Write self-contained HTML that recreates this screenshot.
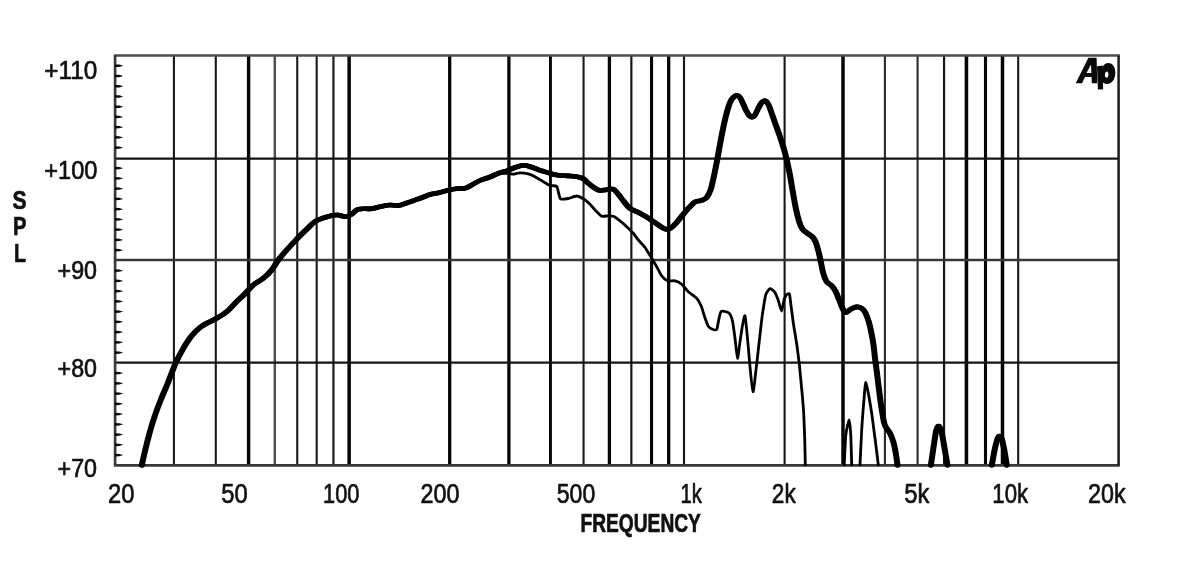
<!DOCTYPE html>
<html><head><meta charset="utf-8"><title>Frequency response</title>
<style>
html,body{margin:0;padding:0;background:#fff;}
body{width:1200px;height:566px;overflow:hidden;font-family:"Liberation Sans",sans-serif;}
svg{display:block;}
text{font-family:"Liberation Sans",sans-serif;fill:#111;}
</style></head><body>
<svg width="1200" height="566" viewBox="0 0 1200 566">
<rect x="0" y="0" width="1200" height="566" fill="#ffffff"/>

<g fill="none">
<line x1="173.91" y1="55.5" x2="173.91" y2="465.3" stroke="#181818" stroke-width="2.1"/>
<line x1="215.79" y1="55.5" x2="215.79" y2="465.3" stroke="#181818" stroke-width="2.1"/>
<line x1="248.60" y1="55.5" x2="248.60" y2="465.3" stroke="#050505" stroke-width="3.4"/>
<line x1="274.80" y1="55.5" x2="274.80" y2="465.3" stroke="#505050" stroke-width="2.5"/>
<line x1="297.24" y1="55.5" x2="297.24" y2="465.3" stroke="#1a1a1a" stroke-width="2.1"/>
<line x1="316.67" y1="55.5" x2="316.67" y2="465.3" stroke="#1a1a1a" stroke-width="2.1"/>
<line x1="333.45" y1="55.5" x2="333.45" y2="465.3" stroke="#1a1a1a" stroke-width="2.2"/>
<line x1="349.15" y1="55.5" x2="349.15" y2="465.3" stroke="#050505" stroke-width="3.5"/>
<line x1="449.70" y1="55.5" x2="449.70" y2="465.3" stroke="#050505" stroke-width="3.3"/>
<line x1="508.91" y1="55.5" x2="508.91" y2="465.3" stroke="#050505" stroke-width="3.3"/>
<line x1="550.45" y1="55.5" x2="550.45" y2="465.3" stroke="#050505" stroke-width="2.9"/>
<line x1="583.55" y1="55.5" x2="583.55" y2="465.3" stroke="#1a1a1a" stroke-width="2.1"/>
<line x1="609.40" y1="55.5" x2="609.40" y2="465.3" stroke="#050505" stroke-width="3.3"/>
<line x1="631.35" y1="55.5" x2="631.35" y2="465.3" stroke="#181818" stroke-width="2.2"/>
<line x1="651.55" y1="55.5" x2="651.55" y2="465.3" stroke="#050505" stroke-width="3.1"/>
<line x1="668.68" y1="55.5" x2="668.68" y2="465.3" stroke="#050505" stroke-width="3.3"/>
<line x1="684.00" y1="55.5" x2="684.00" y2="465.3" stroke="#181818" stroke-width="2.1"/>
<line x1="784.60" y1="55.5" x2="784.60" y2="465.3" stroke="#181818" stroke-width="2.1"/>
<line x1="843.00" y1="55.5" x2="843.00" y2="465.3" stroke="#050505" stroke-width="3.5"/>
<line x1="884.90" y1="55.5" x2="884.90" y2="465.3" stroke="#2a2a2a" stroke-width="2.1"/>
<line x1="917.60" y1="55.5" x2="917.60" y2="465.3" stroke="#2a2a2a" stroke-width="2.1"/>
<line x1="944.06" y1="55.5" x2="944.06" y2="465.3" stroke="#181818" stroke-width="2.2"/>
<line x1="966.43" y1="55.5" x2="966.43" y2="465.3" stroke="#050505" stroke-width="3.6"/>
<line x1="985.50" y1="55.5" x2="985.50" y2="465.3" stroke="#050505" stroke-width="3.1"/>
<line x1="1002.50" y1="55.5" x2="1002.50" y2="465.3" stroke="#050505" stroke-width="3.5"/>
<line x1="1018.20" y1="55.5" x2="1018.20" y2="465.3" stroke="#181818" stroke-width="2.1"/>
<line x1="114.9" y1="158.6" x2="1118.6" y2="158.6" stroke="#141414" stroke-width="2.1"/>
<line x1="114.9" y1="259.9" x2="1118.6" y2="259.9" stroke="#383838" stroke-width="2.5"/>
<line x1="114.9" y1="362.6" x2="1118.6" y2="362.6" stroke="#141414" stroke-width="2.1"/>
<line x1="113.90" y1="55.50" x2="1119.80" y2="55.50" stroke="#4c4c4c" stroke-width="2.4"/>
<line x1="113.90" y1="465.30" x2="1119.80" y2="465.30" stroke="#383838" stroke-width="2.7"/>
<line x1="115.10" y1="55.50" x2="115.10" y2="465.30" stroke="#3a3a3a" stroke-width="2.7"/>
<line x1="1118.60" y1="55.50" x2="1118.60" y2="465.30" stroke="#1c1c1c" stroke-width="2.5"/>
<path d="M114.9,64.40 L119.4,64.59 L123.2,65.75 L119.4,66.90 L114.9,67.09 Z" fill="#0c0c0c" stroke="none"/>
<path d="M114.9,74.64 L119.4,74.84 L123.2,75.99 L119.4,77.14 L114.9,77.34 Z" fill="#0c0c0c" stroke="none"/>
<path d="M114.9,84.89 L119.4,85.08 L123.2,86.23 L119.4,87.39 L114.9,87.58 Z" fill="#0c0c0c" stroke="none"/>
<path d="M114.9,95.13 L119.4,95.33 L123.2,96.48 L119.4,97.63 L114.9,97.83 Z" fill="#0c0c0c" stroke="none"/>
<path d="M114.9,105.38 L119.4,105.58 L123.2,106.73 L119.4,107.88 L114.9,108.08 Z" fill="#0c0c0c" stroke="none"/>
<path d="M114.9,115.62 L119.4,115.82 L123.2,116.97 L119.4,118.12 L114.9,118.32 Z" fill="#0c0c0c" stroke="none"/>
<path d="M114.9,125.87 L119.4,126.06 L123.2,127.22 L119.4,128.37 L114.9,128.56 Z" fill="#0c0c0c" stroke="none"/>
<path d="M114.9,136.11 L119.4,136.31 L123.2,137.46 L119.4,138.61 L114.9,138.81 Z" fill="#0c0c0c" stroke="none"/>
<path d="M114.9,146.36 L119.4,146.56 L123.2,147.71 L119.4,148.86 L114.9,149.06 Z" fill="#0c0c0c" stroke="none"/>
<path d="M114.9,166.84 L119.4,167.04 L123.2,168.19 L119.4,169.34 L114.9,169.54 Z" fill="#0c0c0c" stroke="none"/>
<path d="M114.9,177.09 L119.4,177.29 L123.2,178.44 L119.4,179.59 L114.9,179.79 Z" fill="#0c0c0c" stroke="none"/>
<path d="M114.9,187.34 L119.4,187.53 L123.2,188.69 L119.4,189.84 L114.9,190.03 Z" fill="#0c0c0c" stroke="none"/>
<path d="M114.9,197.58 L119.4,197.78 L123.2,198.93 L119.4,200.08 L114.9,200.28 Z" fill="#0c0c0c" stroke="none"/>
<path d="M114.9,207.83 L119.4,208.03 L123.2,209.18 L119.4,210.33 L114.9,210.53 Z" fill="#0c0c0c" stroke="none"/>
<path d="M114.9,218.07 L119.4,218.27 L123.2,219.42 L119.4,220.57 L114.9,220.77 Z" fill="#0c0c0c" stroke="none"/>
<path d="M114.9,228.32 L119.4,228.52 L123.2,229.67 L119.4,230.82 L114.9,231.02 Z" fill="#0c0c0c" stroke="none"/>
<path d="M114.9,238.56 L119.4,238.76 L123.2,239.91 L119.4,241.06 L114.9,241.26 Z" fill="#0c0c0c" stroke="none"/>
<path d="M114.9,248.81 L119.4,249.01 L123.2,250.16 L119.4,251.31 L114.9,251.51 Z" fill="#0c0c0c" stroke="none"/>
<path d="M114.9,269.29 L119.4,269.50 L123.2,270.64 L119.4,271.79 L114.9,272.00 Z" fill="#0c0c0c" stroke="none"/>
<path d="M114.9,279.54 L119.4,279.74 L123.2,280.89 L119.4,282.04 L114.9,282.24 Z" fill="#0c0c0c" stroke="none"/>
<path d="M114.9,289.78 L119.4,289.99 L123.2,291.13 L119.4,292.28 L114.9,292.49 Z" fill="#0c0c0c" stroke="none"/>
<path d="M114.9,300.03 L119.4,300.23 L123.2,301.38 L119.4,302.53 L114.9,302.73 Z" fill="#0c0c0c" stroke="none"/>
<path d="M114.9,310.27 L119.4,310.48 L123.2,311.62 L119.4,312.77 L114.9,312.98 Z" fill="#0c0c0c" stroke="none"/>
<path d="M114.9,320.52 L119.4,320.72 L123.2,321.87 L119.4,323.02 L114.9,323.22 Z" fill="#0c0c0c" stroke="none"/>
<path d="M114.9,330.76 L119.4,330.97 L123.2,332.12 L119.4,333.26 L114.9,333.47 Z" fill="#0c0c0c" stroke="none"/>
<path d="M114.9,341.01 L119.4,341.21 L123.2,342.36 L119.4,343.51 L114.9,343.71 Z" fill="#0c0c0c" stroke="none"/>
<path d="M114.9,351.25 L119.4,351.46 L123.2,352.61 L119.4,353.75 L114.9,353.96 Z" fill="#0c0c0c" stroke="none"/>
<path d="M114.9,371.75 L119.4,371.95 L123.2,373.10 L119.4,374.25 L114.9,374.45 Z" fill="#0c0c0c" stroke="none"/>
<path d="M114.9,381.99 L119.4,382.19 L123.2,383.34 L119.4,384.49 L114.9,384.69 Z" fill="#0c0c0c" stroke="none"/>
<path d="M114.9,392.24 L119.4,392.44 L123.2,393.59 L119.4,394.74 L114.9,394.94 Z" fill="#0c0c0c" stroke="none"/>
<path d="M114.9,402.48 L119.4,402.68 L123.2,403.83 L119.4,404.98 L114.9,405.18 Z" fill="#0c0c0c" stroke="none"/>
<path d="M114.9,412.73 L119.4,412.93 L123.2,414.08 L119.4,415.23 L114.9,415.43 Z" fill="#0c0c0c" stroke="none"/>
<path d="M114.9,422.97 L119.4,423.17 L123.2,424.32 L119.4,425.47 L114.9,425.67 Z" fill="#0c0c0c" stroke="none"/>
<path d="M114.9,433.22 L119.4,433.42 L123.2,434.57 L119.4,435.72 L114.9,435.92 Z" fill="#0c0c0c" stroke="none"/>
<path d="M114.9,443.46 L119.4,443.66 L123.2,444.81 L119.4,445.96 L114.9,446.16 Z" fill="#0c0c0c" stroke="none"/>
<path d="M114.9,453.71 L119.4,453.91 L123.2,455.06 L119.4,456.21 L114.9,456.41 Z" fill="#0c0c0c" stroke="none"/>
</g>
<g fill="none" stroke="#000" stroke-linejoin="round" stroke-linecap="round">
<path d="M498.3,173.3 C499.3,173.3 506.8,173.2 508.3,173.3 C509.8,173.4 512.1,174.2 513.3,174.2 C514.5,174.1 518.5,172.8 520.0,172.8 C521.5,172.8 526.8,173.4 528.3,173.8 C529.8,174.2 533.5,175.9 535.0,176.7 C536.5,177.5 541.8,180.8 543.3,181.7 C544.8,182.6 548.7,184.8 550.0,185.3 C551.3,185.8 555.9,185.7 556.7,186.3 C557.5,186.9 557.9,190.4 558.3,191.7 C558.7,193.0 559.6,198.2 560.6,198.9 C561.6,199.6 566.7,198.8 568.3,198.5 C569.9,198.2 575.2,196.0 576.7,196.0 C578.2,196.0 582.0,198.0 583.3,198.8 C584.6,199.6 588.8,203.0 590.0,204.2 C591.2,205.4 594.6,209.6 595.8,210.8 C597.0,212.0 600.5,215.7 601.7,216.2 C603.0,216.7 607.1,215.8 608.3,215.8 C609.5,215.8 612.1,215.8 613.3,216.3 C614.5,216.8 618.7,219.8 620.0,220.8 C621.3,221.8 625.4,225.4 626.7,226.7 C628.0,227.9 632.1,232.0 633.3,233.3 C634.5,234.6 637.1,238.6 638.3,240.0 C639.5,241.4 643.8,245.8 645.0,247.5 C646.2,249.2 649.6,254.8 650.8,256.7 C652.0,258.6 655.6,264.8 656.7,266.7 C657.8,268.6 660.6,274.4 661.7,275.8 C662.8,277.2 666.2,280.3 667.5,280.8 C668.8,281.3 673.6,280.5 675.0,280.8 C676.4,281.1 680.4,283.1 681.7,284.2 C683.0,285.3 686.8,290.3 688.3,291.7 C689.8,293.1 695.4,296.9 696.7,298.3 C698.0,299.7 700.4,304.2 701.2,306.0 C702.0,307.8 703.9,314.7 704.6,316.7 C705.3,318.7 707.5,324.9 708.3,326.2 C709.1,327.4 711.7,328.9 712.5,329.2 C713.3,329.5 716.1,330.4 716.7,329.5 C717.3,328.6 718.3,321.8 718.7,320.0 C719.1,318.2 720.4,312.9 720.8,312.0 C721.2,311.1 721.7,311.1 722.5,311.2 C723.3,311.3 728.2,312.3 729.2,313.3 C730.2,314.3 731.9,318.5 732.5,321.0 C733.1,323.5 734.5,334.6 735.0,338.3 C735.5,342.0 737.0,358.0 737.5,358.3 C738.0,358.6 739.5,345.0 740.0,341.7 C740.5,338.4 742.0,328.1 742.5,325.5 C743.0,322.9 744.5,314.5 745.0,315.8 C745.5,317.1 747.0,333.2 747.5,338.3 C748.0,343.4 749.5,361.4 750.0,366.7 C750.5,372.0 752.4,391.2 753.0,391.7 C753.6,392.2 755.2,376.7 755.8,371.7 C756.4,366.7 758.7,346.6 759.2,341.7 C759.8,336.8 760.9,326.5 761.3,323.0 C761.7,319.5 763.1,309.6 763.6,306.7 C764.1,303.8 765.2,296.3 765.8,294.5 C766.4,292.7 769.1,288.9 770.0,288.7 C770.9,288.4 773.8,290.8 774.6,292.0 C775.4,293.2 777.6,298.5 778.3,300.4 C779.0,302.3 780.9,311.1 781.5,311.0 C782.1,310.9 783.7,301.1 784.2,299.5 C784.7,297.9 786.2,295.0 786.7,294.5 C787.2,294.0 789.1,293.1 789.5,294.2 C789.9,295.3 790.6,302.6 791.0,305.5 C791.4,308.4 792.9,320.2 793.3,323.0 C793.7,325.8 794.6,330.9 795.0,333.3 C795.4,335.8 796.8,344.3 797.2,347.5 C797.6,350.7 799.0,361.2 799.4,365.0 C799.8,368.8 801.0,381.6 801.3,385.0 C801.6,388.4 802.4,395.7 802.6,398.5 C802.8,401.3 803.5,409.3 803.7,413.3 C803.9,417.3 804.5,433.2 804.7,438.3 C804.9,443.4 805.2,462.2 805.3,464.8" stroke-width="2.8"/>
<path d="M844.2,464.8 C844.4,461.8 845.3,439.5 845.8,435.0 C846.3,430.5 848.7,420.0 849.2,420.0 C849.7,420.0 850.5,430.5 850.8,435.0 C851.0,439.5 851.6,461.8 851.7,464.8" stroke-width="2.8"/>
<path d="M860.0,464.8 C860.2,461.3 861.3,436.8 861.7,430.0 C862.1,423.2 863.8,401.4 864.2,396.7 C864.6,391.9 865.2,382.8 865.6,382.5 C866.0,382.2 867.7,390.2 868.3,393.3 C868.9,396.4 871.0,408.8 871.7,413.3 C872.4,417.8 874.3,433.2 875.0,438.3 C875.7,443.4 878.0,462.2 878.3,464.8" stroke-width="2.8"/>
<path d="M141.8,465.2 C142.3,462.8 143.8,456.1 145.0,451.0 C146.2,445.9 147.7,439.9 149.2,434.3 C150.7,428.8 152.3,423.2 154.2,417.7 C156.0,412.1 158.1,406.6 160.3,401.0 C162.5,395.4 164.9,390.2 167.5,383.8 C170.1,377.4 173.2,368.7 175.8,362.8 C178.4,356.9 180.7,352.8 183.3,348.3 C186.0,343.8 188.9,339.3 191.7,335.8 C194.5,332.3 197.2,329.7 200.0,327.5 C202.8,325.3 205.5,324.0 208.3,322.5 C211.1,321.0 213.6,320.1 216.7,318.3 C219.8,316.5 223.4,314.5 226.7,311.7 C230.0,308.9 233.7,304.6 236.7,301.7 C239.7,298.8 241.8,297.0 244.6,294.2 C247.4,291.4 250.2,287.6 253.3,285.0 C256.4,282.4 260.2,280.8 263.3,278.3 C266.4,275.8 269.2,273.1 271.7,270.0 C274.2,266.9 275.8,263.3 278.3,260.0 C280.8,256.7 283.6,253.5 286.7,250.0 C289.8,246.5 293.4,242.7 296.7,239.2 C300.0,235.7 303.6,232.1 306.7,229.2 C309.8,226.3 312.2,223.6 315.0,221.7 C317.8,219.8 320.2,219.1 323.3,218.0 C326.4,216.9 330.8,215.8 333.3,215.3 C335.8,214.8 336.4,214.8 338.3,215.0 C340.2,215.2 342.8,216.8 345.0,216.7 C347.2,216.6 349.5,215.4 351.7,214.2 C353.9,212.9 355.0,210.1 358.3,209.2 C361.6,208.3 367.8,209.2 371.7,208.7 C375.6,208.2 378.6,206.9 381.7,206.3 C384.8,205.7 387.2,205.1 390.0,205.0 C392.8,204.9 395.5,205.9 398.3,205.6 C401.1,205.3 404.6,203.7 406.7,203.0 C408.8,202.3 409.3,202.2 411.0,201.6 C412.7,201.0 414.9,200.2 417.0,199.4 C419.1,198.6 421.3,197.8 423.5,197.0 C425.7,196.2 427.2,195.2 430.0,194.5 C432.8,193.8 436.7,193.3 440.0,192.5 C443.3,191.7 447.2,190.3 450.0,189.7 C452.8,189.1 454.2,188.9 456.7,188.7 C459.2,188.5 462.5,188.9 465.0,188.3 C467.5,187.7 469.2,186.3 471.7,185.0 C474.2,183.7 476.9,181.8 480.0,180.5 C483.1,179.2 486.9,178.2 490.0,177.0 C493.1,175.8 495.5,174.3 498.3,173.3 C501.1,172.3 503.9,171.8 506.7,170.8 C509.5,169.8 512.2,168.4 515.0,167.5 C517.8,166.6 520.5,165.4 523.3,165.3 C526.1,165.2 528.6,166.3 531.7,167.2 C534.8,168.1 538.7,169.8 541.7,170.8 C544.8,171.8 547.2,172.6 550.0,173.3 C552.8,174.1 555.2,174.9 558.3,175.3 C561.3,175.7 565.2,175.7 568.3,175.9 C571.4,176.1 574.2,176.2 576.7,176.7 C579.2,177.2 581.4,177.6 583.3,178.7 C585.2,179.8 586.3,181.7 588.3,183.3 C590.2,184.9 593.0,187.1 595.0,188.3 C597.0,189.5 598.0,190.3 600.0,190.5 C602.0,190.7 604.5,189.9 606.7,189.7 C608.9,189.5 611.4,188.4 613.3,189.2 C615.2,189.9 616.6,192.3 618.3,194.2 C620.0,196.1 621.3,198.5 623.3,200.8 C625.2,203.2 627.2,206.2 630.0,208.3 C632.8,210.4 636.7,211.5 640.0,213.3 C643.3,215.1 647.0,217.2 650.0,219.2 C653.0,221.1 655.7,223.3 658.3,225.0 C660.9,226.7 663.7,228.7 665.8,229.2 C667.9,229.7 669.0,229.1 670.8,228.0 C672.6,226.9 674.6,224.8 676.7,222.5 C678.8,220.2 681.1,216.8 683.3,214.2 C685.5,211.6 688.0,208.7 690.0,206.7 C692.0,204.7 693.0,203.1 695.0,202.0 C697.0,200.9 699.8,201.1 701.7,200.3 C703.7,199.6 705.2,199.3 706.7,197.5 C708.2,195.7 709.5,192.9 710.8,189.2 C712.0,185.4 713.1,180.2 714.2,175.0 C715.3,169.8 716.4,164.1 717.5,158.3 C718.6,152.5 719.7,145.8 720.8,140.0 C721.9,134.2 723.1,128.3 724.2,123.3 C725.3,118.3 726.4,113.8 727.5,110.0 C728.6,106.2 729.7,103.0 730.8,100.8 C731.9,98.6 733.2,97.6 734.2,96.7 C735.2,95.8 735.7,95.2 736.7,95.3 C737.7,95.4 738.9,96.0 740.0,97.5 C741.1,99.0 742.2,101.8 743.3,104.2 C744.4,106.6 745.6,109.7 746.7,111.7 C747.8,113.7 749.0,115.4 750.0,116.3 C751.0,117.2 751.7,117.2 752.5,117.0 C753.3,116.8 754.0,116.5 755.0,115.0 C756.0,113.5 757.2,110.4 758.3,108.3 C759.4,106.2 760.6,103.8 761.7,102.5 C762.8,101.2 763.9,100.5 765.0,100.8 C766.1,101.1 767.2,102.1 768.3,104.2 C769.4,106.3 770.5,109.8 771.7,113.3 C773.0,116.8 774.4,121.1 775.8,125.0 C777.2,128.9 778.6,132.5 780.0,136.7 C781.4,140.9 783.0,145.8 784.2,150.0 C785.4,154.2 786.3,158.1 787.2,162.0 C788.1,165.9 788.7,168.6 789.6,173.3 C790.5,178.0 791.5,184.2 792.5,190.0 C793.5,195.8 794.7,203.0 795.8,208.3 C796.9,213.6 798.1,218.2 799.2,221.7 C800.3,225.2 801.1,227.3 802.5,229.2 C803.9,231.1 805.8,232.0 807.5,233.3 C809.2,234.6 811.1,235.6 812.5,237.0 C813.9,238.4 814.6,239.7 815.6,242.0 C816.6,244.3 817.5,247.7 818.4,251.0 C819.3,254.3 820.0,258.0 820.8,261.7 C821.6,265.4 822.3,270.0 823.3,273.3 C824.3,276.6 825.3,279.6 826.7,281.7 C828.1,283.8 830.2,284.1 831.7,285.8 C833.2,287.5 834.5,289.3 835.8,291.7 C837.0,294.1 838.1,297.2 839.2,300.0 C840.3,302.8 841.4,306.2 842.5,308.3 C843.6,310.4 844.4,312.4 845.8,312.5 C847.2,312.6 849.0,310.1 850.8,309.2 C852.6,308.3 854.9,307.0 856.7,306.9 C858.5,306.8 860.2,307.3 861.7,308.3 C863.2,309.3 864.3,310.6 865.5,313.0 C866.7,315.4 868.0,319.0 869.0,322.5 C870.0,326.0 870.9,330.4 871.6,334.0 C872.3,337.6 872.8,339.9 873.4,344.0 C874.0,348.1 874.4,353.3 875.0,358.3 C875.6,363.3 876.5,369.1 877.1,374.0 C877.7,378.9 878.2,383.3 878.8,388.0 C879.4,392.7 880.0,397.8 880.6,402.0 C881.2,406.2 881.7,409.5 882.4,413.3 C883.1,417.1 883.5,421.7 884.8,425.0 C886.1,428.3 888.6,430.5 890.0,433.3 C891.4,436.1 892.3,438.4 893.3,441.7 C894.3,445.0 895.1,449.4 895.8,453.3 C896.5,457.2 897.2,463.2 897.5,465.2 M930.9,465.2 C931.1,463.9 933.0,450.4 933.4,448.0 C933.8,445.6 935.6,433.5 935.9,432.0 C936.2,430.5 937.4,427.4 937.6,427.0 C937.8,426.6 938.5,426.0 938.6,426.0 C938.7,426.0 939.4,426.6 939.6,427.0 C939.8,427.4 941.2,430.5 941.6,432.0 C942.0,433.5 944.1,445.6 944.5,448.0 C944.9,450.4 947.3,463.9 947.5,465.2 M991.8,465.2 C992.0,464.1 994.2,451.9 994.6,450.0 C995.0,448.1 997.0,440.5 997.3,439.5 C997.6,438.5 998.5,436.9 998.7,436.6 C998.9,436.3 999.5,436.0 999.6,436.0 C999.7,436.0 1000.3,436.3 1000.5,436.6 C1000.7,436.9 1001.7,438.5 1002.0,439.5 C1002.3,440.5 1003.9,448.1 1004.3,450.0 C1004.7,451.9 1006.6,464.1 1006.8,465.2" stroke-width="4.6"/>
<path d="M141.8,465.2 C142.3,462.8 143.8,456.1 145.0,451.0 C146.2,445.9 147.7,439.9 149.2,434.3 C150.7,428.8 152.3,423.2 154.2,417.7 C156.0,412.1 158.1,406.6 160.3,401.0 C162.5,395.4 164.9,390.2 167.5,383.8 C170.1,377.4 173.2,368.7 175.8,362.8 C178.4,356.9 180.7,352.8 183.3,348.3 C186.0,343.8 188.9,339.3 191.7,335.8 C194.5,332.3 197.2,329.7 200.0,327.5 C202.8,325.3 205.5,324.0 208.3,322.5 C211.1,321.0 213.6,320.1 216.7,318.3 C219.8,316.5 223.4,314.5 226.7,311.7 C230.0,308.9 233.7,304.6 236.7,301.7 C239.7,298.8 241.8,297.0 244.6,294.2 C247.4,291.4 250.2,287.6 253.3,285.0 C256.4,282.4 260.2,280.8 263.3,278.3 C266.4,275.8 269.2,273.1 271.7,270.0 C274.2,266.9 275.8,263.3 278.3,260.0 C280.8,256.7 283.6,253.5 286.7,250.0 C289.8,246.5 293.4,242.7 296.7,239.2 C300.0,235.7 303.6,232.1 306.7,229.2 C309.8,226.3 312.2,223.6 315.0,221.7 C317.8,219.8 320.2,219.1 323.3,218.0 C326.4,216.9 330.8,215.8 333.3,215.3 C335.8,214.8 336.4,214.8 338.3,215.0 C340.2,215.2 342.8,216.8 345.0,216.7 C347.2,216.6 349.5,215.4 351.7,214.2 C353.9,212.9 355.0,210.1 358.3,209.2 C361.6,208.3 367.8,209.2 371.7,208.7 C375.6,208.2 378.6,206.9 381.7,206.3 C384.8,205.7 387.2,205.1 390.0,205.0 C392.8,204.9 395.5,205.9 398.3,205.6 C401.1,205.3 404.6,203.7 406.7,203.0 C408.8,202.3 409.3,202.2 411.0,201.6 C412.7,201.0 414.9,200.2 417.0,199.4 C419.1,198.6 421.3,197.8 423.5,197.0 C425.7,196.2 427.2,195.2 430.0,194.5 C432.8,193.8 436.7,193.3 440.0,192.5 C443.3,191.7 447.2,190.3 450.0,189.7 C452.8,189.1 454.2,188.9 456.7,188.7 C459.2,188.5 462.5,188.9 465.0,188.3 C467.5,187.7 469.2,186.3 471.7,185.0 C474.2,183.7 476.9,181.8 480.0,180.5 C483.1,179.2 486.9,178.2 490.0,177.0 C493.1,175.8 495.5,174.3 498.3,173.3 C501.1,172.3 503.9,171.8 506.7,170.8 C509.5,169.8 512.2,168.4 515.0,167.5 C517.8,166.6 520.5,165.4 523.3,165.3 C526.1,165.2 528.6,166.3 531.7,167.2 C534.8,168.1 538.7,169.8 541.7,170.8 C544.8,171.8 547.2,172.6 550.0,173.3 C552.8,174.1 555.2,174.9 558.3,175.3 C561.3,175.7 565.2,175.7 568.3,175.9 C571.4,176.1 574.2,176.2 576.7,176.7 C579.2,177.2 581.4,177.6 583.3,178.7 C585.2,179.8 586.3,181.7 588.3,183.3 C590.2,184.9 593.0,187.1 595.0,188.3 C597.0,189.5 598.0,190.3 600.0,190.5 C602.0,190.7 604.5,189.9 606.7,189.7 C608.9,189.5 611.4,188.4 613.3,189.2 C615.2,189.9 616.6,192.3 618.3,194.2 C620.0,196.1 621.3,198.5 623.3,200.8 C625.2,203.2 627.2,206.2 630.0,208.3 C632.8,210.4 636.7,211.5 640.0,213.3 C643.3,215.1 647.0,217.2 650.0,219.2 C653.0,221.1 655.7,223.3 658.3,225.0 C660.9,226.7 663.7,228.7 665.8,229.2 C667.9,229.7 669.0,229.1 670.8,228.0 C672.6,226.9 674.6,224.8 676.7,222.5 C678.8,220.2 681.1,216.8 683.3,214.2 C685.5,211.6 688.0,208.7 690.0,206.7 C692.0,204.7 693.0,203.1 695.0,202.0 C697.0,200.9 699.8,201.1 701.7,200.3 C703.7,199.6 705.2,199.3 706.7,197.5 C708.2,195.7 709.5,192.9 710.8,189.2 C712.0,185.4 713.1,180.2 714.2,175.0 C715.3,169.8 716.4,164.1 717.5,158.3 C718.6,152.5 719.7,145.8 720.8,140.0 C721.9,134.2 723.1,128.3 724.2,123.3 C725.3,118.3 726.4,113.8 727.5,110.0 C728.6,106.2 729.7,103.0 730.8,100.8 C731.9,98.6 733.2,97.6 734.2,96.7 C735.2,95.8 735.7,95.2 736.7,95.3 C737.7,95.4 738.9,96.0 740.0,97.5 C741.1,99.0 742.2,101.8 743.3,104.2 C744.4,106.6 745.6,109.7 746.7,111.7 C747.8,113.7 749.0,115.4 750.0,116.3 C751.0,117.2 751.7,117.2 752.5,117.0 C753.3,116.8 754.0,116.5 755.0,115.0 C756.0,113.5 757.2,110.4 758.3,108.3 C759.4,106.2 760.6,103.8 761.7,102.5 C762.8,101.2 763.9,100.5 765.0,100.8 C766.1,101.1 767.2,102.1 768.3,104.2 C769.4,106.3 770.5,109.8 771.7,113.3 C773.0,116.8 774.4,121.1 775.8,125.0 C777.2,128.9 778.6,132.5 780.0,136.7 C781.4,140.9 783.0,145.8 784.2,150.0 C785.4,154.2 786.3,158.1 787.2,162.0 C788.1,165.9 788.7,168.6 789.6,173.3 C790.5,178.0 791.5,184.2 792.5,190.0 C793.5,195.8 794.7,203.0 795.8,208.3 C796.9,213.6 798.1,218.2 799.2,221.7 C800.3,225.2 801.1,227.3 802.5,229.2 C803.9,231.1 805.8,232.0 807.5,233.3 C809.2,234.6 811.1,235.6 812.5,237.0 C813.9,238.4 814.6,239.7 815.6,242.0 C816.6,244.3 817.5,247.7 818.4,251.0 C819.3,254.3 820.0,258.0 820.8,261.7 C821.6,265.4 822.3,270.0 823.3,273.3 C824.3,276.6 825.3,279.6 826.7,281.7 C828.1,283.8 830.2,284.1 831.7,285.8 C833.2,287.5 834.5,289.3 835.8,291.7 C837.0,294.1 838.1,297.2 839.2,300.0 C840.3,302.8 841.4,306.2 842.5,308.3 C843.6,310.4 844.4,312.4 845.8,312.5 C847.2,312.6 849.0,310.1 850.8,309.2 C852.6,308.3 854.9,307.0 856.7,306.9 C858.5,306.8 860.2,307.3 861.7,308.3 C863.2,309.3 864.3,310.6 865.5,313.0 C866.7,315.4 868.0,319.0 869.0,322.5 C870.0,326.0 870.9,330.4 871.6,334.0 C872.3,337.6 872.8,339.9 873.4,344.0 C874.0,348.1 874.4,353.3 875.0,358.3 C875.6,363.3 876.5,369.1 877.1,374.0 C877.7,378.9 878.2,383.3 878.8,388.0 C879.4,392.7 880.0,397.8 880.6,402.0 C881.2,406.2 881.7,409.5 882.4,413.3 C883.1,417.1 883.5,421.7 884.8,425.0 C886.1,428.3 888.6,430.5 890.0,433.3 C891.4,436.1 892.3,438.4 893.3,441.7 C894.3,445.0 895.1,449.4 895.8,453.3 C896.5,457.2 897.2,463.2 897.5,465.2 M930.9,465.2 C931.1,463.9 933.0,450.4 933.4,448.0 C933.8,445.6 935.6,433.5 935.9,432.0 C936.2,430.5 937.4,427.4 937.6,427.0 C937.8,426.6 938.5,426.0 938.6,426.0 C938.7,426.0 939.4,426.6 939.6,427.0 C939.8,427.4 941.2,430.5 941.6,432.0 C942.0,433.5 944.1,445.6 944.5,448.0 C944.9,450.4 947.3,463.9 947.5,465.2 M991.8,465.2 C992.0,464.1 994.2,451.9 994.6,450.0 C995.0,448.1 997.0,440.5 997.3,439.5 C997.6,438.5 998.5,436.9 998.7,436.6 C998.9,436.3 999.5,436.0 999.6,436.0 C999.7,436.0 1000.3,436.3 1000.5,436.6 C1000.7,436.9 1001.7,438.5 1002.0,439.5 C1002.3,440.5 1003.9,448.1 1004.3,450.0 C1004.7,451.9 1006.6,464.1 1006.8,465.2" stroke-width="4.6" transform="translate(-0.7,0)"/>
<path d="M141.8,465.2 C142.3,462.8 143.8,456.1 145.0,451.0 C146.2,445.9 147.7,439.9 149.2,434.3 C150.7,428.8 152.3,423.2 154.2,417.7 C156.0,412.1 158.1,406.6 160.3,401.0 C162.5,395.4 164.9,390.2 167.5,383.8 C170.1,377.4 173.2,368.7 175.8,362.8 C178.4,356.9 180.7,352.8 183.3,348.3 C186.0,343.8 188.9,339.3 191.7,335.8 C194.5,332.3 197.2,329.7 200.0,327.5 C202.8,325.3 205.5,324.0 208.3,322.5 C211.1,321.0 213.6,320.1 216.7,318.3 C219.8,316.5 223.4,314.5 226.7,311.7 C230.0,308.9 233.7,304.6 236.7,301.7 C239.7,298.8 241.8,297.0 244.6,294.2 C247.4,291.4 250.2,287.6 253.3,285.0 C256.4,282.4 260.2,280.8 263.3,278.3 C266.4,275.8 269.2,273.1 271.7,270.0 C274.2,266.9 275.8,263.3 278.3,260.0 C280.8,256.7 283.6,253.5 286.7,250.0 C289.8,246.5 293.4,242.7 296.7,239.2 C300.0,235.7 303.6,232.1 306.7,229.2 C309.8,226.3 312.2,223.6 315.0,221.7 C317.8,219.8 320.2,219.1 323.3,218.0 C326.4,216.9 330.8,215.8 333.3,215.3 C335.8,214.8 336.4,214.8 338.3,215.0 C340.2,215.2 342.8,216.8 345.0,216.7 C347.2,216.6 349.5,215.4 351.7,214.2 C353.9,212.9 355.0,210.1 358.3,209.2 C361.6,208.3 367.8,209.2 371.7,208.7 C375.6,208.2 378.6,206.9 381.7,206.3 C384.8,205.7 387.2,205.1 390.0,205.0 C392.8,204.9 395.5,205.9 398.3,205.6 C401.1,205.3 404.6,203.7 406.7,203.0 C408.8,202.3 409.3,202.2 411.0,201.6 C412.7,201.0 414.9,200.2 417.0,199.4 C419.1,198.6 421.3,197.8 423.5,197.0 C425.7,196.2 427.2,195.2 430.0,194.5 C432.8,193.8 436.7,193.3 440.0,192.5 C443.3,191.7 447.2,190.3 450.0,189.7 C452.8,189.1 454.2,188.9 456.7,188.7 C459.2,188.5 462.5,188.9 465.0,188.3 C467.5,187.7 469.2,186.3 471.7,185.0 C474.2,183.7 476.9,181.8 480.0,180.5 C483.1,179.2 486.9,178.2 490.0,177.0 C493.1,175.8 495.5,174.3 498.3,173.3 C501.1,172.3 503.9,171.8 506.7,170.8 C509.5,169.8 512.2,168.4 515.0,167.5 C517.8,166.6 520.5,165.4 523.3,165.3 C526.1,165.2 528.6,166.3 531.7,167.2 C534.8,168.1 538.7,169.8 541.7,170.8 C544.8,171.8 547.2,172.6 550.0,173.3 C552.8,174.1 555.2,174.9 558.3,175.3 C561.3,175.7 565.2,175.7 568.3,175.9 C571.4,176.1 574.2,176.2 576.7,176.7 C579.2,177.2 581.4,177.6 583.3,178.7 C585.2,179.8 586.3,181.7 588.3,183.3 C590.2,184.9 593.0,187.1 595.0,188.3 C597.0,189.5 598.0,190.3 600.0,190.5 C602.0,190.7 604.5,189.9 606.7,189.7 C608.9,189.5 611.4,188.4 613.3,189.2 C615.2,189.9 616.6,192.3 618.3,194.2 C620.0,196.1 621.3,198.5 623.3,200.8 C625.2,203.2 627.2,206.2 630.0,208.3 C632.8,210.4 636.7,211.5 640.0,213.3 C643.3,215.1 647.0,217.2 650.0,219.2 C653.0,221.1 655.7,223.3 658.3,225.0 C660.9,226.7 663.7,228.7 665.8,229.2 C667.9,229.7 669.0,229.1 670.8,228.0 C672.6,226.9 674.6,224.8 676.7,222.5 C678.8,220.2 681.1,216.8 683.3,214.2 C685.5,211.6 688.0,208.7 690.0,206.7 C692.0,204.7 693.0,203.1 695.0,202.0 C697.0,200.9 699.8,201.1 701.7,200.3 C703.7,199.6 705.2,199.3 706.7,197.5 C708.2,195.7 709.5,192.9 710.8,189.2 C712.0,185.4 713.1,180.2 714.2,175.0 C715.3,169.8 716.4,164.1 717.5,158.3 C718.6,152.5 719.7,145.8 720.8,140.0 C721.9,134.2 723.1,128.3 724.2,123.3 C725.3,118.3 726.4,113.8 727.5,110.0 C728.6,106.2 729.7,103.0 730.8,100.8 C731.9,98.6 733.2,97.6 734.2,96.7 C735.2,95.8 735.7,95.2 736.7,95.3 C737.7,95.4 738.9,96.0 740.0,97.5 C741.1,99.0 742.2,101.8 743.3,104.2 C744.4,106.6 745.6,109.7 746.7,111.7 C747.8,113.7 749.0,115.4 750.0,116.3 C751.0,117.2 751.7,117.2 752.5,117.0 C753.3,116.8 754.0,116.5 755.0,115.0 C756.0,113.5 757.2,110.4 758.3,108.3 C759.4,106.2 760.6,103.8 761.7,102.5 C762.8,101.2 763.9,100.5 765.0,100.8 C766.1,101.1 767.2,102.1 768.3,104.2 C769.4,106.3 770.5,109.8 771.7,113.3 C773.0,116.8 774.4,121.1 775.8,125.0 C777.2,128.9 778.6,132.5 780.0,136.7 C781.4,140.9 783.0,145.8 784.2,150.0 C785.4,154.2 786.3,158.1 787.2,162.0 C788.1,165.9 788.7,168.6 789.6,173.3 C790.5,178.0 791.5,184.2 792.5,190.0 C793.5,195.8 794.7,203.0 795.8,208.3 C796.9,213.6 798.1,218.2 799.2,221.7 C800.3,225.2 801.1,227.3 802.5,229.2 C803.9,231.1 805.8,232.0 807.5,233.3 C809.2,234.6 811.1,235.6 812.5,237.0 C813.9,238.4 814.6,239.7 815.6,242.0 C816.6,244.3 817.5,247.7 818.4,251.0 C819.3,254.3 820.0,258.0 820.8,261.7 C821.6,265.4 822.3,270.0 823.3,273.3 C824.3,276.6 825.3,279.6 826.7,281.7 C828.1,283.8 830.2,284.1 831.7,285.8 C833.2,287.5 834.5,289.3 835.8,291.7 C837.0,294.1 838.1,297.2 839.2,300.0 C840.3,302.8 841.4,306.2 842.5,308.3 C843.6,310.4 844.4,312.4 845.8,312.5 C847.2,312.6 849.0,310.1 850.8,309.2 C852.6,308.3 854.9,307.0 856.7,306.9 C858.5,306.8 860.2,307.3 861.7,308.3 C863.2,309.3 864.3,310.6 865.5,313.0 C866.7,315.4 868.0,319.0 869.0,322.5 C870.0,326.0 870.9,330.4 871.6,334.0 C872.3,337.6 872.8,339.9 873.4,344.0 C874.0,348.1 874.4,353.3 875.0,358.3 C875.6,363.3 876.5,369.1 877.1,374.0 C877.7,378.9 878.2,383.3 878.8,388.0 C879.4,392.7 880.0,397.8 880.6,402.0 C881.2,406.2 881.7,409.5 882.4,413.3 C883.1,417.1 883.5,421.7 884.8,425.0 C886.1,428.3 888.6,430.5 890.0,433.3 C891.4,436.1 892.3,438.4 893.3,441.7 C894.3,445.0 895.1,449.4 895.8,453.3 C896.5,457.2 897.2,463.2 897.5,465.2 M930.9,465.2 C931.1,463.9 933.0,450.4 933.4,448.0 C933.8,445.6 935.6,433.5 935.9,432.0 C936.2,430.5 937.4,427.4 937.6,427.0 C937.8,426.6 938.5,426.0 938.6,426.0 C938.7,426.0 939.4,426.6 939.6,427.0 C939.8,427.4 941.2,430.5 941.6,432.0 C942.0,433.5 944.1,445.6 944.5,448.0 C944.9,450.4 947.3,463.9 947.5,465.2 M991.8,465.2 C992.0,464.1 994.2,451.9 994.6,450.0 C995.0,448.1 997.0,440.5 997.3,439.5 C997.6,438.5 998.5,436.9 998.7,436.6 C998.9,436.3 999.5,436.0 999.6,436.0 C999.7,436.0 1000.3,436.3 1000.5,436.6 C1000.7,436.9 1001.7,438.5 1002.0,439.5 C1002.3,440.5 1003.9,448.1 1004.3,450.0 C1004.7,451.9 1006.6,464.1 1006.8,465.2" stroke-width="4.6" transform="translate(0.7,0)"/>
</g>
<g style="filter:grayscale(1)">
<text x="44.3" y="79.3" font-size="26.0" textLength="52.9" lengthAdjust="spacingAndGlyphs" text-anchor="start" stroke="#111" stroke-width="0.70" stroke-linejoin="round">+110</text>
<text x="44.3" y="179.2" font-size="26.0" textLength="53.1" lengthAdjust="spacingAndGlyphs" text-anchor="start" stroke="#111" stroke-width="0.70" stroke-linejoin="round">+100</text>
<text x="57.6" y="279.4" font-size="26.0" textLength="39.4" lengthAdjust="spacingAndGlyphs" text-anchor="start" stroke="#111" stroke-width="0.70" stroke-linejoin="round">+90</text>
<text x="57.6" y="377.2" font-size="26.0" textLength="39.4" lengthAdjust="spacingAndGlyphs" text-anchor="start" stroke="#111" stroke-width="0.70" stroke-linejoin="round">+80</text>
<text x="57.6" y="477.3" font-size="26.0" textLength="39.4" lengthAdjust="spacingAndGlyphs" text-anchor="start" stroke="#111" stroke-width="0.70" stroke-linejoin="round">+70</text>
<text x="108.0" y="502.5" font-size="27.4" textLength="26.4" lengthAdjust="spacingAndGlyphs" text-anchor="start" stroke="#111" stroke-width="0.70" stroke-linejoin="round">20</text>
<text x="221.3" y="502.5" font-size="27.4" textLength="26.4" lengthAdjust="spacingAndGlyphs" text-anchor="start" stroke="#111" stroke-width="0.70" stroke-linejoin="round">50</text>
<text x="323.1" y="502.5" font-size="27.4" textLength="36.4" lengthAdjust="spacingAndGlyphs" text-anchor="start" stroke="#111" stroke-width="0.70" stroke-linejoin="round">100</text>
<text x="420.6" y="502.5" font-size="27.4" textLength="38.9" lengthAdjust="spacingAndGlyphs" text-anchor="start" stroke="#111" stroke-width="0.70" stroke-linejoin="round">200</text>
<text x="556.8" y="502.5" font-size="27.4" textLength="38.4" lengthAdjust="spacingAndGlyphs" text-anchor="start" stroke="#111" stroke-width="0.70" stroke-linejoin="round">500</text>
<text x="680.5" y="502.5" font-size="27.4" textLength="21.4" lengthAdjust="spacingAndGlyphs" text-anchor="start" stroke="#111" stroke-width="0.70" stroke-linejoin="round">1k</text>
<text x="771.8" y="502.5" font-size="27.4" textLength="23.9" lengthAdjust="spacingAndGlyphs" text-anchor="start" stroke="#111" stroke-width="0.70" stroke-linejoin="round">2k</text>
<text x="904.3" y="502.5" font-size="27.4" textLength="25.1" lengthAdjust="spacingAndGlyphs" text-anchor="start" stroke="#111" stroke-width="0.70" stroke-linejoin="round">5k</text>
<text x="992.3" y="502.5" font-size="27.4" textLength="35.9" lengthAdjust="spacingAndGlyphs" text-anchor="start" stroke="#111" stroke-width="0.70" stroke-linejoin="round">10k</text>
<text x="1088.0" y="502.5" font-size="27.4" textLength="37.6" lengthAdjust="spacingAndGlyphs" text-anchor="start" stroke="#111" stroke-width="0.70" stroke-linejoin="round">20k</text>
<text x="580.5" y="532.3" font-size="25.0" textLength="120.4" lengthAdjust="spacingAndGlyphs" text-anchor="start" stroke="#111" stroke-width="0.70" stroke-linejoin="round" font-weight="bold">FREQUENCY</text>
<text x="12.6" y="209.2" font-size="26.0" textLength="14.1" lengthAdjust="spacingAndGlyphs" text-anchor="start" stroke="#111" stroke-width="0.70" stroke-linejoin="round" font-weight="bold">S</text>
<text x="13.1" y="234.9" font-size="26.0" textLength="13.4" lengthAdjust="spacingAndGlyphs" text-anchor="start" stroke="#111" stroke-width="0.70" stroke-linejoin="round" font-weight="bold">P</text>
<text x="13.9" y="262.4" font-size="26.0" textLength="12.0" lengthAdjust="spacingAndGlyphs" text-anchor="start" stroke="#111" stroke-width="0.70" stroke-linejoin="round" font-weight="bold">L</text>
</g>
<g fill="#0a0a0a" stroke="none">
<path fill-rule="evenodd" d="M1075.7,83.3 L1088.4,57.8 L1096.6,57.8 L1097.3,83.2 L1091.8,83.2 L1091.6,76.9 L1085.0,76.9 L1082.0,83.3 Z M1086.5,73.1 L1091.4,73.1 L1091.0,64.6 Z"/>
<path d="M1097.0,66.2 L1102.6,65.6 L1103.1,89.4 L1097.9,89.4 Z"/>
<path fill-rule="evenodd" d="M1108.4,62.9 C1112.9,62.9 1115.5,67.6 1115.3,73.2 C1115.1,79.4 1111.7,84.0 1106.9,84.0 C1102.6,84.0 1100.3,79.8 1100.5,74.0 C1100.7,67.8 1103.9,62.9 1108.4,62.9 Z M1107.0,71.4 C1105.7,71.4 1104.9,72.9 1104.9,74.7 C1104.9,76.5 1105.6,77.7 1106.6,77.7 C1107.7,77.7 1108.4,76.3 1108.4,74.5 C1108.4,72.7 1107.9,71.4 1107.0,71.4 Z"/>
</g>
</svg></body></html>
